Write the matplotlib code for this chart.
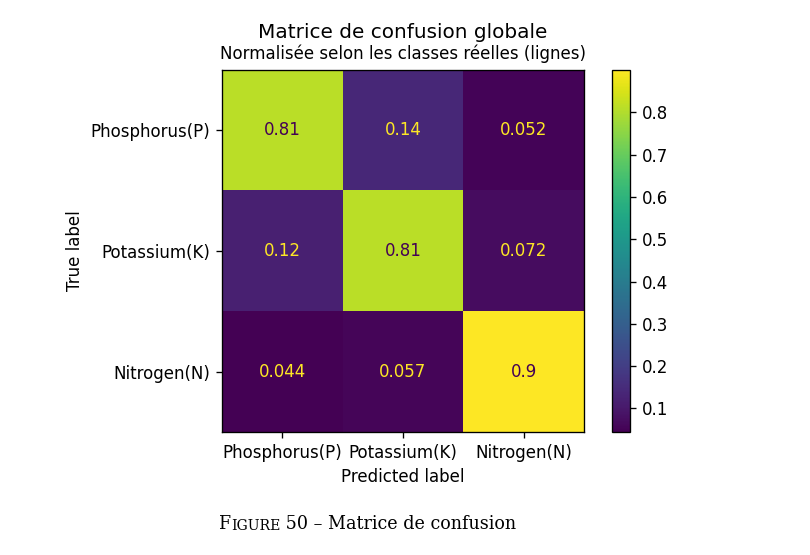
import numpy as np
import matplotlib
matplotlib.use("Agg")
import matplotlib.pyplot as plt

classes = ["Phosphorus(P)", "Potassium(K)", "Nitrogen(N)"]
row_p = [0.81, 0.14, 0.052]
row_k = [0.12, 0.81, 0.072]
row_n = [0.044, 0.057, 0.9]

cm = np.array([row_p, row_k, row_n])

# the reference looks like a 100-dpi figure blown up by 1.2
fig = plt.figure(figsize=(6.75, 4.625), dpi=120)
ax = fig.add_axes([0.274, 0.2216, 0.447, 0.652])
cax = fig.add_axes([0.7556, 0.2216, 0.0222, 0.652])

cmap = plt.get_cmap("viridis")
im = ax.imshow(cm, cmap=cmap, interpolation="nearest")
cb = fig.colorbar(im, cax=cax)
cb.set_ticks([0.1, 0.2, 0.3, 0.4, 0.5, 0.6, 0.7, 0.8])

thresh = (cm.max() + cm.min()) / 2.0
for i in range(cm.shape[0]):
    for j in range(cm.shape[1]):
        color = cmap(0.0) if cm[i, j] >= thresh else cmap(1.0)
        ax.text(j, i, format(cm[i, j], ".2g"), ha="center", va="center",
                color=color, fontsize=10)

ax.set_xticks(range(len(classes)))
ax.set_yticks(range(len(classes)))
ax.set_xticklabels(classes)
ax.set_yticklabels(classes)
ax.set_xlabel("Predicted label")
ax.set_ylabel("True label")

fig.text(0.4975, 0.942, "Matrice de confusion globale", ha="center",
         va="center", fontsize=12)
fig.text(0.4975, 0.904, "Normalisée selon les classes réelles (lignes)",
         ha="center", va="center", fontsize=10)

# caption in small caps, built from pieces
cap_font = "DejaVu Serif"
t1 = fig.text(0.270, 0.047, "F", fontsize=10.5, family=cap_font, va="baseline")
t2 = plt.annotate("IGURE", xy=(1, 0), xycoords=t1, fontsize=8.4,
                  family=cap_font, va="bottom", annotation_clip=False)
t3 = plt.annotate(" 50 – Matrice de confusion", xy=(1, 0), xycoords=t2,
                  fontsize=10.5, family=cap_font, va="bottom",
                  annotation_clip=False)

fig.savefig("out.png", dpi=120)
